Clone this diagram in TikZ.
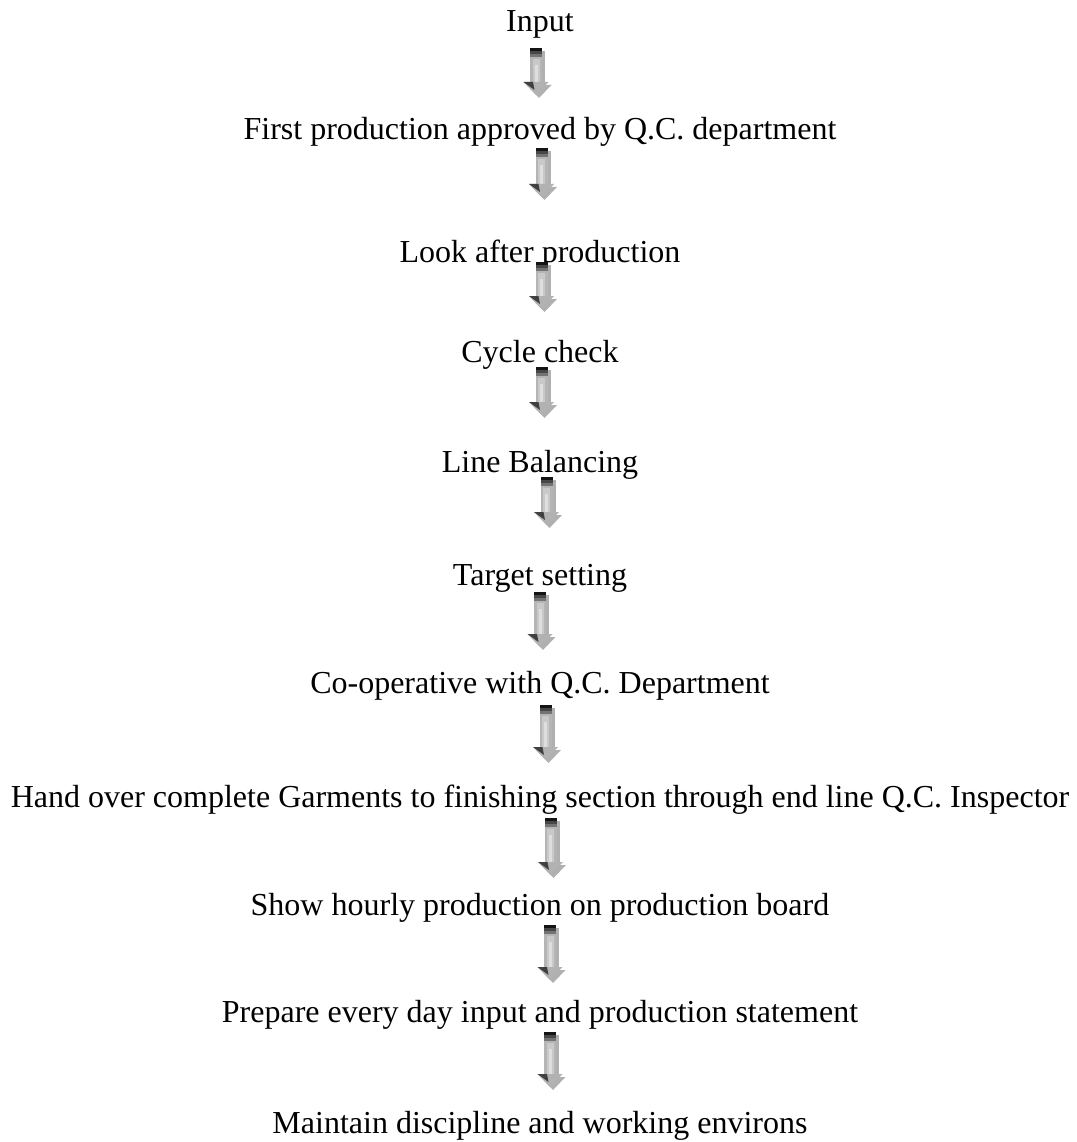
\documentclass[tikz,border=0pt]{standalone}
\usepackage{fontspec}
\setmainfont{Liberation Serif}
\tikzset{
  x=1pt, y=1pt,
  stage/.style={inner sep=0pt, anchor=base, font=\fontsize{32}{38}\selectfont},
  % block arrow pointing down; origin = top centre of the shaft, #1 = length
  pics/downarrow/.style={code={
    \pgfmathsetmacro{\hb}{-(#1)+16}
    % drop shadow
    \fill[gray!62] (-3,-3) rectangle (9,\hb-3);
    \fill[gray!62] (-9.5,\hb-3) -- (15.5,\hb-3) -- (3,-#1) -- cycle;
    % shaft, lighter towards the middle
    \fill[gray!58] (-6,0) rectangle (6,\hb);
    \fill[gray!42] (-3.5,-11) rectangle (3.5,\hb-2);
    \fill[gray!26] (-1.5,-17) rectangle (1.5,\hb-7);
    % banded tail
    \fill[black!92] (-6,0) rectangle (6,-3);
    \fill[black!72] (-6,-3) rectangle (6,-6);
    \fill[black!55] (-6,-6) rectangle (6,-9);
    % head
    \fill[gray!60] (-12.5,\hb) -- (12.5,\hb) -- (0,-#1+3) -- cycle;
    \fill[black!75] (-12.5,\hb) -- (-3,\hb) -- (-1.5,\hb-8) -- cycle;
  }}
}
\begin{document}
\begin{tikzpicture}
\useasboundingbox (0,0) rectangle (1076,-1142);
\node[stage] (s1)  at (540,-32)   {Input};
\node[stage] (s2)  at (540,-140)  {First production approved by Q.C. department};
\node[stage] (s3)  at (540,-262)  {Look after production};
\node[stage] (s4)  at (540,-362)  {Cycle check};
\node[stage] (s5)  at (540,-472)  {Line Balancing};
\node[stage] (s6)  at (540,-585)  {Target setting};
\node[stage] (s7)  at (540,-693)  {Co-operative with Q.C. Department};
\node[stage] (s8)  at (540,-807)  {Hand over complete Garments to finishing section through end line Q.C. Inspector};
\node[stage] (s9)  at (540,-915)  {Show hourly production on production board};
\node[stage] (s10) at (540,-1022) {Prepare every day input and production statement};
\node[stage] (s11) at (540,-1133) {Maintain discipline and working environs};
% arrows between consecutive stages: from stage, x of shaft, drop below baseline, length
\foreach \a/\x/\d/\l in {s1/536/16/50, s2/541.5/8/52, s3/541.5/0/50, s4/541.5/5/51,
                         s5/546.5/5/51, s6/540/7/58, s7/545.5/12/58, s8/550.5/11/60,
                         s9/550/10/58, s10/550/10/58}{
  \coordinate (t\a) at ([yshift=-\d] \a.base -| \x,0);
  \pic at (t\a) {downarrow=\l};
}
\end{tikzpicture}
\end{document}
